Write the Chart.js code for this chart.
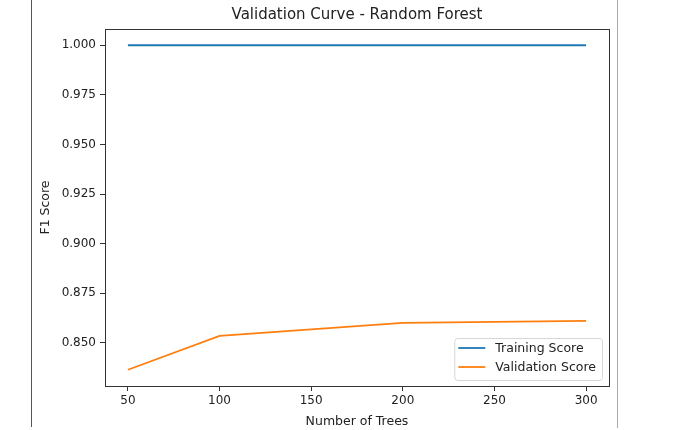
<!doctype html>
<html lang="en">
 <head>
  <meta charset="utf-8">
  <script src="https://cdn.jsdelivr.net/npm/chart.js@4.4.1/dist/chart.umd.min.js"></script>
  <style>
html, body { margin: 0; padding: 0; background: #fff; }
.chart-box { position: relative; width: 680px; height: 430px; }
  </style>
  <title>Validation Curve - Random Forest</title>
 </head>
 <body>
  <div class="chart-box"><canvas id="curve"></canvas></div>
  <script>
// values
var nTrees = [50, 100, 200, 300];
var trainingScores = [1.000, 1.000, 1.000, 1.000];
var validationScores = [0.8364, 0.8535, 0.8600, 0.8610];
var xTicks = [50, 100, 150, 200, 250, 300];
var yTicks = [0.850, 0.875, 0.900, 0.925, 0.950, 0.975, 1.000];

const FONT = "'DejaVu Sans', sans-serif";
const BLUE = '#1f77b4';
const ORANGE = '#ff7f0e';

function toPoints(xs, ys) {
  return xs.map(function (x, i) { return { x: x, y: ys[i] }; });
}

// centre the title over the plot area (matplotlib does that, chart.js uses the padded box)
const titleOverArea = {
  id: 'titleOverArea',
  afterLayout: function (chart) {
    if (chart.titleBlock) {
      chart.titleBlock.left = chart.chartArea.left;
      chart.titleBlock.right = chart.chartArea.right;
    }
  }
};

// axes frame (matplotlib style spines) + the two stray screen lines
const framePlugin = {
  id: 'frame',
  afterDraw: function (chart) {
    const ctx = chart.ctx;
    const a = chart.chartArea;
    ctx.save();
    ctx.strokeStyle = '#333';
    ctx.lineWidth = 1;
    ctx.strokeRect(Math.round(a.left) + 0.5, Math.round(a.top) + 0.5,
                   Math.round(a.right - a.left), Math.round(a.bottom - a.top));
    ctx.beginPath();
    ctx.strokeStyle = '#555';
    ctx.moveTo(31.5, 0); ctx.lineTo(31.5, 427);
    ctx.stroke();
    ctx.beginPath();
    ctx.strokeStyle = '#aaa';
    ctx.moveTo(617.5, 0); ctx.lineTo(617.5, 428);
    ctx.stroke();
    ctx.restore();
  }
};

// legend inside the plot, lower right, like matplotlib's loc='lower right'
const innerLegend = {
  id: 'innerLegend',
  afterDatasetsDraw: function (chart) {
    const ctx = chart.ctx;
    const a = chart.chartArea;
    const sets = chart.data.datasets;
    ctx.save();
    ctx.font = '12.5px ' + FONT;
    var textW = 0;
    sets.forEach(function (d) { textW = Math.max(textW, ctx.measureText(d.label).width); });
    const w = 4 + 28 + 9 + textW + 6;
    const h = 42;
    const x0 = a.right - 7 - w;
    const y0 = a.bottom - 6 - h;
    ctx.beginPath();
    ctx.roundRect(x0 + 0.5, y0 + 0.5, w, h, 3);
    ctx.fillStyle = 'rgba(255,255,255,0.8)';
    ctx.fill();
    ctx.strokeStyle = '#d6d6d6';
    ctx.lineWidth = 1;
    ctx.stroke();
    sets.forEach(function (d, i) {
      const y = y0 + 10 + i * 19;
      ctx.beginPath();
      ctx.strokeStyle = d.borderColor;
      ctx.lineWidth = 1.8;
      ctx.moveTo(x0 + 4, y);
      ctx.lineTo(x0 + 31, y);
      ctx.stroke();
      ctx.fillStyle = '#222';
      ctx.textBaseline = 'middle';
      ctx.fillText(d.label, x0 + 41, y + 1);
    });
    ctx.restore();
  }
};

const chart = new Chart(document.getElementById('curve'), {
  type: 'line',
  data: {
    datasets: [
      {
        label: 'Training Score',
        data: toPoints(nTrees, trainingScores),
        borderColor: BLUE,
        backgroundColor: BLUE,
        borderWidth: 1.8,
        pointRadius: 0,
        tension: 0
      },
      {
        label: 'Validation Score',
        data: toPoints(nTrees, validationScores),
        borderColor: ORANGE,
        backgroundColor: ORANGE,
        borderWidth: 1.8,
        pointRadius: 0,
        tension: 0
      }
    ]
  },
  options: {
    animation: false,
    responsive: true,
    maintainAspectRatio: false,
    layout: { padding: { left: 38, right: 71, top: 0, bottom: 1 } },
    scales: {
      x: {
        type: 'linear',
        min: 37.5,
        max: 312.5,
        afterBuildTicks: function (s) { s.ticks = xTicks.map(function (v) { return { value: v }; }); },
        afterFit: function (s) { s.height = 43; },
        grid: { drawOnChartArea: false, tickLength: 5, color: '#333' },
        border: { display: false },
        ticks: { color: '#222', padding: 3, maxRotation: 0, font: { family: FONT, size: 12 },
                 callback: function (v) { return String(v); } },
        title: { display: true, text: 'Number of Trees', color: '#222', padding: { top: 4, bottom: 0 },
                 font: { family: FONT, size: 12.5 } }
      },
      y: {
        type: 'linear',
        min: 0.8282,
        max: 1.0082,
        afterBuildTicks: function (s) { s.ticks = yTicks.map(function (v) { return { value: v }; }); },
        afterFit: function (s) { s.width = 67; },
        grid: { drawOnChartArea: false, tickLength: 5, color: '#333' },
        border: { display: false },
        ticks: { color: '#222', padding: 4, font: { family: FONT, size: 12 },
                 callback: function (v) { return v.toFixed(3); } },
        title: { display: true, text: 'F1 Score', color: '#222', padding: { top: 0, bottom: 0 },
                 font: { family: FONT, size: 12.5 } }
      }
    },
    plugins: {
      legend: { display: false },
      tooltip: { enabled: false },
      title: {
        display: true,
        text: 'Validation Curve - Random Forest',
        color: '#222',
        padding: { top: 6, bottom: 5 },
        font: { family: FONT, size: 15, weight: 'normal' }
      }
    }
  },
  plugins: [titleOverArea, framePlugin, innerLegend]
});
  </script>
 </body>
</html>
